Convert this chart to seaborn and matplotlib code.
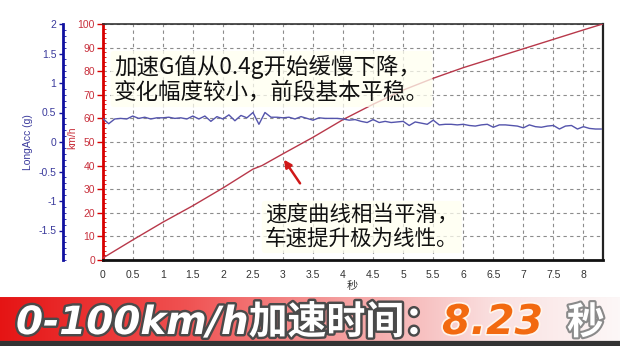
import numpy as np
import pandas as pd
import matplotlib
matplotlib.use("Agg")
import matplotlib.pyplot as plt
import matplotlib.patheffects as pe
from matplotlib.ticker import MultipleLocator, FixedLocator
import seaborn as sns

# ---------------- data ----------------
speed_time = [0.0, 0.5, 1.0, 1.5, 2.0, 2.5, 2.65, 3.0, 3.5, 4.0, 4.5, 5.0, 5.5, 6.0, 6.5, 7.0, 7.5, 8.0, 8.32]
speed_kmh = [0.8, 8.5, 16.0, 23.0, 30.5, 38.5, 40.0, 45.0, 52.0, 59.5, 66.0, 72.0, 77.0, 81.5, 85.5, 89.5, 93.5, 97.5, 100.0]

acc_time = [0.0, 0.1, 0.2, 0.3, 0.4, 0.5, 0.6, 0.7, 0.8, 0.9,
            1.0, 1.1, 1.2, 1.3, 1.4, 1.5, 1.6, 1.7, 1.8, 1.9,
            2.0, 2.1, 2.2, 2.3, 2.4, 2.5, 2.6, 2.7, 2.8, 2.9,
            3.0, 3.1, 3.2, 3.3, 3.4, 3.5, 3.6, 3.7, 3.8, 3.9,
            4.0, 4.1, 4.2, 4.3, 4.4, 4.5, 4.6, 4.7, 4.8, 4.9,
            5.0, 5.1, 5.2, 5.3, 5.4, 5.5, 5.6, 5.7, 5.8, 5.9,
            6.0, 6.1, 6.2, 6.3, 6.4, 6.5, 6.6, 6.7, 6.8, 6.9,
            7.0, 7.1, 7.2, 7.3, 7.4, 7.5, 7.6, 7.7, 7.8, 7.9,
            8.0, 8.1, 8.2, 8.3]
acc_g = [0.40, 0.31, 0.39, 0.40, 0.39, 0.44, 0.40, 0.42, 0.39, 0.41,
         0.41, 0.42, 0.40, 0.41, 0.39, 0.44, 0.39, 0.44, 0.35, 0.43,
         0.39, 0.46, 0.36, 0.45, 0.41, 0.50, 0.30, 0.50, 0.42, 0.42,
         0.41, 0.42, 0.39, 0.43, 0.40, 0.37, 0.41, 0.40, 0.40, 0.40,
         0.39, 0.37, 0.38, 0.35, 0.33, 0.38, 0.33, 0.35, 0.33, 0.34,
         0.35, 0.28, 0.34, 0.32, 0.30, 0.37, 0.29, 0.30, 0.30, 0.29,
         0.30, 0.28, 0.27, 0.29, 0.30, 0.25, 0.29, 0.29, 0.28, 0.27,
         0.24, 0.29, 0.26, 0.25, 0.27, 0.28, 0.22, 0.27, 0.28, 0.22,
         0.26, 0.23, 0.22, 0.22]

x_ticks = [0, 0.5, 1, 1.5, 2, 2.5, 3, 3.5, 4, 4.5, 5, 5.5, 6, 6.5, 7, 7.5, 8]
x_tick_labels = ["0", "0.5", "1", "1.5", "2", "2.5", "3", "3.5", "4", "4.5",
                 "5", "5.5", "6", "6.5", "7", "7.5", "8"]
speed_ticks = [0, 10, 20, 30, 40, 50, 60, 70, 80, 90, 100]
acc_ticks = [-1.5, -1, -0.5, 0, 0.5, 1, 1.5, 2]
acc_tick_labels = ["-1.5", "-1", "-0.5", "0", "0.5", "1", "1.5", "2"]

note_acc = "加速G值从0.4g开始缓慢下降，\n变化幅度较小，前段基本平稳。"
note_speed = "速度曲线相当平滑，\n车速提升极为线性。"
arrow_tip = (2.99, 43.5)
arrow_tail = (3.31, 31.5)
banner_left = "0-100km/h加速时间："
banner_value = "8.23"
banner_unit = "秒"
x_label = "秒"

speed_df = pd.DataFrame({"t": speed_time, "v": speed_kmh})
acc_df = pd.DataFrame({"t": acc_time, "g": acc_g})

# ---------------- style ----------------
sns.set_style("white")
plt.rcParams["font.family"] = ["Liberation Sans", "Noto Sans CJK SC", "DejaVu Sans"]

W, H = 620, 354
fig = plt.figure(figsize=(W / 100, H / 100), dpi=100, facecolor="white")

ax = fig.add_axes([102.7 / W, (H - 260) / H, 500 / W, 236 / H])
ax2 = ax.twinx()

RED_AX = "#d80000"
RED_LINE = "#b8384a"
BLUE_AX = "#1010a0"
BLUE_LINE = "#5454ac"

sns.lineplot(data=speed_df, x="t", y="v", ax=ax, color=RED_LINE, linewidth=1.0, zorder=3)
sns.lineplot(data=acc_df, x="t", y="g", ax=ax2, color=BLUE_LINE, linewidth=1.0, zorder=3)

ax.set_xlim(0, 8.32)
ax.set_ylim(0, 100)
ax2.set_ylim(-2, 2)

# grid
ax.xaxis.set_major_locator(FixedLocator(x_ticks))
ax.set_xticklabels(x_tick_labels)
ax.xaxis.set_minor_locator(MultipleLocator(0.1))
ax.yaxis.set_major_locator(FixedLocator(speed_ticks))
ax.yaxis.set_minor_locator(MultipleLocator(2))
ax.grid(True, which="major", color="#8c8c8c", linestyle=(0, (3, 3)), linewidth=0.8)
ax.set_axisbelow(True)

# speed (red) axis
ax.tick_params(axis="y", which="major", colors=RED_AX, labelcolor="#c8303c", labelsize=7.5,
               direction="out", length=4, width=1, pad=1.5)
ax.tick_params(axis="y", which="minor", colors=RED_AX, direction="in", length=2, width=0.6)
ax.tick_params(axis="x", which="major", colors="#111111", labelcolor="#333333", labelsize=7.5,
               direction="out", length=4, width=1, pad=3)
ax.tick_params(axis="x", which="minor", colors="#111111", direction="out", length=2, width=0.6)
ax.set_ylabel("km/h", color="#c8303c", fontsize=7.5)
ax.yaxis.set_label_coords(-0.05, 0.52)
ax.set_xlabel(x_label, color="#333333", fontsize=8, family=["Noto Sans CJK SC", "DejaVu Sans"])
ax.xaxis.set_label_coords(0.5, -0.09)

ax.spines["left"].set_color(RED_AX)
ax.spines["left"].set_linewidth(2)
ax.spines["bottom"].set_color("#111111")
ax.spines["bottom"].set_linewidth(2)
ax.spines["top"].set_color("#333333")
ax.spines["top"].set_linewidth(1.2)
ax.spines["right"].set_color("#222222")
ax.spines["right"].set_linewidth(1.6)

# acceleration (blue) axis, moved to the left (40 px = 28.8 pt)
ax2.yaxis.tick_left()
ax2.yaxis.set_label_position("left")
for s in ["right", "top", "bottom"]:
    ax2.spines[s].set_visible(False)
ax2.spines["left"].set_visible(True)
ax2.spines["left"].set_position(("outward", 28.8))
ax2.spines["left"].set_color(BLUE_AX)
ax2.spines["left"].set_linewidth(2)
ax2.yaxis.set_major_locator(FixedLocator(acc_ticks))
ax2.set_yticklabels(acc_tick_labels)
ax2.yaxis.set_minor_locator(MultipleLocator(0.1))
ax2.tick_params(axis="y", which="major", colors=BLUE_AX, labelcolor="#3a3a9c", labelsize=7.5,
                direction="out", length=3, width=1, pad=1.5)
ax2.tick_params(axis="y", which="minor", colors=BLUE_AX, direction="in", length=2, width=0.6)
ax2.set_ylabel("LongAcc (g)", color="#3a3a9c", fontsize=7.5)
ax2.yaxis.set_label_coords(-0.139, 0.5)
ax2.set_xlabel("")

# arrow
ax.annotate("", xy=arrow_tip, xytext=arrow_tail,
            arrowprops=dict(arrowstyle="-|>", color="#d01818", lw=1.8, mutation_scale=11),
            zorder=5)

# notes
cjk = ["Noto Sans CJK SC", "DejaVu Sans"]
box = dict(boxstyle="round,pad=0.15", fc="#fffff0", ec="none", alpha=0.75)
fig.text(114 / W, 1 - 79 / H, note_acc, family=cjk, fontsize=16.2, color="#111111",
         ha="left", va="center", linespacing=1.12, bbox=box, zorder=6)
fig.text(265 / W, 1 - 227 / H, note_speed, family=cjk, fontsize=15.5, color="#111111",
         ha="left", va="center", linespacing=1.1, bbox=box, zorder=6)

# banner
bax = fig.add_axes([0, (H - 346) / H, 1, 49 / H])
bax.set_axis_off()
stops_x = [0.0, 0.3, 0.55, 0.8, 1.0]
stops_c = np.array([[0.90, 0.08, 0.08], [0.94, 0.32, 0.32], [0.96, 0.62, 0.62],
                    [0.98, 0.88, 0.88], [0.99, 0.97, 0.97]])
xs = np.linspace(0, 1, 620)
grad = np.stack([np.interp(xs, stops_x, stops_c[:, k]) for k in range(3)], axis=-1)
img = np.repeat(grad[None, :, :], 49, axis=0)
img[-5:, :, :] = [0.2, 0.2, 0.2]
img[:1, :, :] = [0.85, 0.85, 0.85]
bax.imshow(img, aspect="auto", extent=[0, 1, 0, 1], interpolation="bilinear")
bax.set_xlim(0, 1)
bax.set_ylim(0, 1)

base_y = (H - 334) / H
stroke_dark = [pe.withStroke(linewidth=3.5, foreground="#4a4a4a")]
fig.text(16 / W, base_y, banner_left, family=["DejaVu Sans", "Noto Sans CJK SC"],
         fontsize=28, fontweight="bold", style="italic", color="white",
         ha="left", va="baseline", path_effects=stroke_dark, zorder=10)
fig.text(442 / W, base_y, banner_value, family=["DejaVu Sans"],
         fontsize=29.5, fontweight="bold", style="italic", color="#f26a10",
         ha="left", va="baseline",
         path_effects=[pe.withStroke(linewidth=2.5, foreground="#fff4ec")], zorder=10)
fig.text(567 / W, base_y, banner_unit, family=["Noto Sans CJK SC", "DejaVu Sans"],
         fontsize=27, fontweight="bold", color="white",
         ha="left", va="baseline", path_effects=[pe.withStroke(linewidth=3, foreground="#8a8a8a")],
         zorder=10)

fig.savefig("out.png", dpi=100, facecolor="white")
